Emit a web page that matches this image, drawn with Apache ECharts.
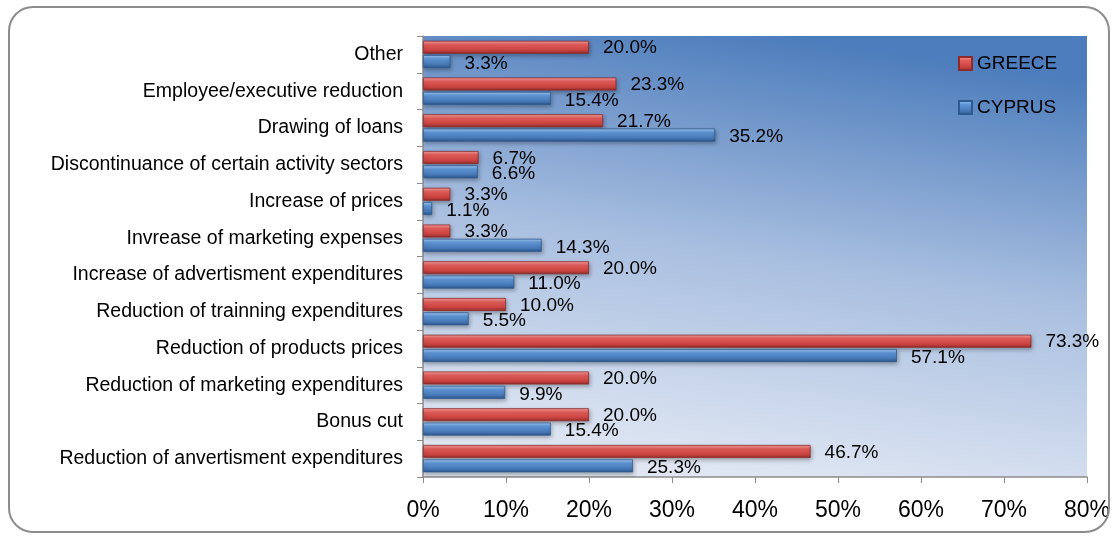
<!DOCTYPE html>
<html><head><meta charset="utf-8">
<script src="https://cdn.jsdelivr.net/npm/echarts@6/dist/echarts.min.js"></script>
<style>html,body{margin:0;padding:0;background:#fff}#c{width:1119px;height:540px}</style>
</head><body><div id="c"></div>
<script>
var categories = [
  "Reduction of anvertisment expenditures",
  "Bonus cut",
  "Reduction of marketing expenditures",
  "Reduction of products prices",
  "Reduction of trainning expenditures",
  "Increase of advertisment expenditures",
  "Invrease of marketing expenses",
  "Increase of prices",
  "Discontinuance of certain activity sectors",
  "Drawing of loans",
  "Employee/executive reduction",
  "Other"
];
var greece = [46.7, 20.0, 20.0, 73.3, 10.0, 20.0, 3.3, 3.3, 6.7, 21.7, 23.3, 20.0];
var cyprus = [25.3, 15.4, 9.9, 57.1, 5.5, 11.0, 14.3, 1.1, 6.6, 35.2, 15.4, 3.3];
var xTicks = [0, 10, 20, 30, 40, 50, 60, 70, 80];

var FONT = '"Liberation Sans", Arial, sans-serif';
function grad(c1, c2, c3, c4) {
  return new echarts.graphic.LinearGradient(0, 0, 0, 1, [
    {offset: 0, color: c1}, {offset: 0.3, color: c2}, {offset: 0.75, color: c3}, {offset: 1, color: c4}
  ]);
}
var chart = echarts.init(document.getElementById('c'), null, {renderer: 'canvas'});
function lbl(extra) {
  return Object.assign({
    show: true, position: 'right', distance: 14, color: '#000', fontSize: 19, fontFamily: FONT,
    formatter: function (p) { return p.value.toFixed(1) + '%'; }
  }, extra || {});
}
chart.setOption({
  animation: false,
  graphic: [
    {type: 'rect', shape: {x: 9, y: 7, width: 1100, height: 525, r: 24},
     style: {fill: 'none', stroke: '#8c8c8c', lineWidth: 2}, z: 100}
  ],
  legend: {
    data: ['GREECE', 'CYPRUS'], orient: 'vertical', left: 953, top: 49, itemGap: 25,
    itemWidth: 13, itemHeight: 13, icon: 'rect',
    textStyle: {fontSize: 19, fontFamily: FONT, color: '#000'}
  },
  grid: {
    left: 423, right: 32, top: 36, bottom: 63, show: true, borderWidth: 0,
    backgroundColor: new echarts.graphic.LinearGradient(0.45, 1, 0.55, 0, [
      {offset: 0, color: '#e0e7f3'}, {offset: 0.5, color: '#a9bfe0'}, {offset: 1, color: '#4d7dbc'}
    ])
  },
  xAxis: {
    type: 'value', min: 0, max: 80, interval: 10,
    axisLine: {show: true, lineStyle: {color: '#8c8c8c', width: 1.5}},
    axisTick: {show: true, length: 6, lineStyle: {color: '#8c8c8c'}},
    splitLine: {show: false},
    axisLabel: {fontSize: 23, fontFamily: FONT, color: '#000', margin: 22,
      formatter: function (v) { return xTicks.indexOf(v) >= 0 ? v + '%' : ''; }}
  },
  yAxis: {
    type: 'category', data: categories,
    axisLine: {show: true, lineStyle: {color: '#8c8c8c', width: 1.5}},
    axisTick: {show: true, length: 6, lineStyle: {color: '#8c8c8c'}},
    axisLabel: {fontSize: 19.5, fontFamily: FONT, color: '#000', margin: 20}
  },
  series: [
    {name: 'GREECE', type: 'bar', data: greece, barWidth: 13, barGap: '10%',
     itemStyle: {color: grad('#f9a3a1', '#e25d5a', '#c7423f', '#8f2b29'),
       borderColor: '#8e2b28', borderWidth: 0.8,
       shadowColor: 'rgba(0,0,0,0.3)', shadowBlur: 4, shadowOffsetY: 2, shadowOffsetX: 1},
     label: lbl({offset: [0, 1]})},
    {name: 'CYPRUS', type: 'bar', data: cyprus, barWidth: 13, barGap: '10%',
     itemStyle: {color: grad('#a3cbf8', '#5f95d6', '#4576b4', '#2c5489'),
       borderColor: '#2f5a8f', borderWidth: 0.8,
       shadowColor: 'rgba(0,0,0,0.3)', shadowBlur: 4, shadowOffsetY: 2, shadowOffsetX: 1},
     label: lbl({offset: [0, 2]})}
  ]
});
</script></body></html>
